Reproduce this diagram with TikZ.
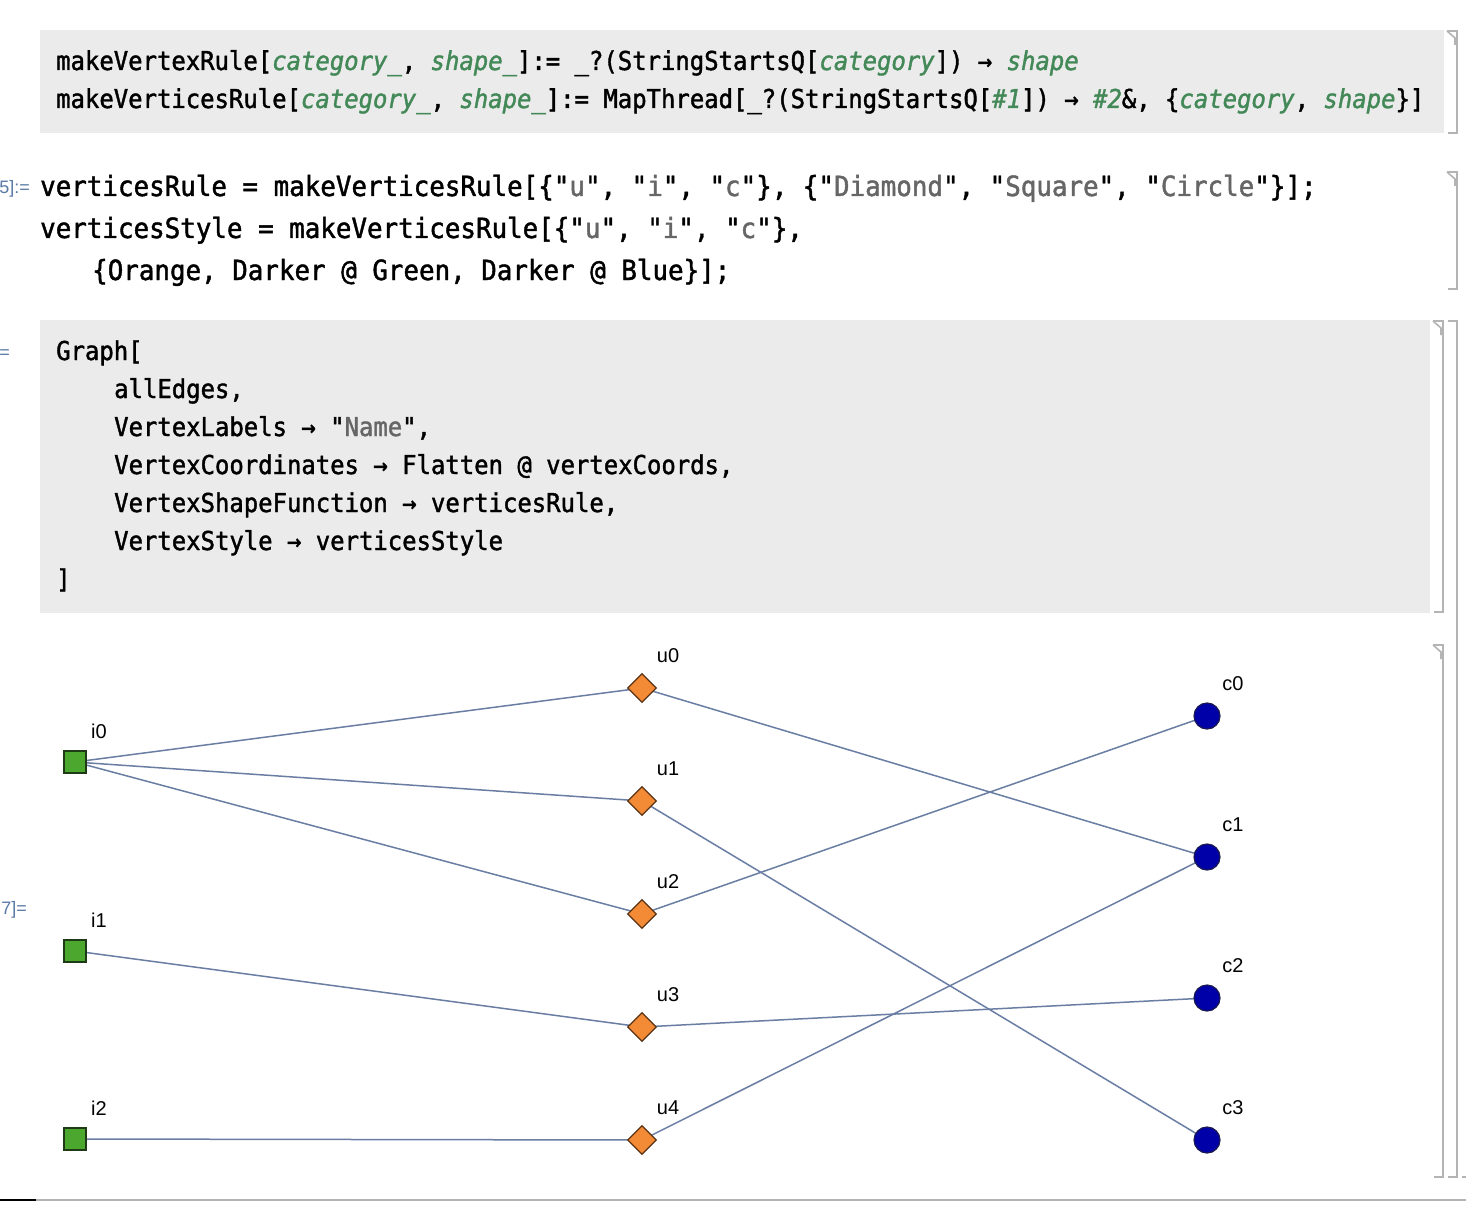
\documentclass[tikz,border=0pt]{standalone}
\usepackage{fontspec}
\setmainfont{Liberation Sans}
\newfontfamily\codefont[FakeStretch=0.92,FakeBold=1.5]{DejaVu Sans Mono}
\newfontfamily\codefontB[FakeStretch=0.93,FakeBold=1.5]{DejaVu Sans Mono}
\usetikzlibrary{shapes.geometric}
\definecolor{cellgray}{HTML}{EBEBEB}
\definecolor{brkcol}{HTML}{B4B4B4}
\definecolor{pvgreen}{HTML}{438958}
\definecolor{strgray}{HTML}{666666}
\definecolor{lblblue}{HTML}{5A7AA6}
\definecolor{edgecol}{HTML}{6A7EA4}
\definecolor{igreen}{HTML}{4CA72E}
\definecolor{iborder}{HTML}{1E3A17}
\definecolor{uorange}{HTML}{F28A36}
\definecolor{uborder}{HTML}{5C3312}
\definecolor{cblue}{HTML}{0000A8}
\definecolor{cborder}{HTML}{1A1A50}
\newcommand{\pv}[1]{{\color{pvgreen}\itshape #1}}
\newcommand{\str}[1]{"{\color{strgray}#1}"}
\pgfdeclarelayer{bglayer}
\pgfdeclarelayer{edgelayer}
\pgfsetlayers{bglayer,edgelayer,main}
\tikzset{
  codeA/.style={inner sep=0pt, anchor=base west, font=\codefont\fontsize{26}{30}\selectfont},
  codeB/.style={inner sep=0pt, anchor=base west, font=\codefontB\fontsize{27.8}{32}\selectfont},
  cellno/.style={inner sep=0pt, anchor=east, text=lblblue, font=\fontsize{18}{21}\selectfont},
  brk/.style={draw=brkcol, line width=1.6pt},
  isq/.style={rectangle, minimum size=22pt, inner sep=0pt, fill=igreen, draw=iborder, line width=1.8pt},
  udia/.style={diamond, minimum size=29pt, inner sep=0pt, fill=uorange, draw=uborder, line width=1.2pt},
  ccirc/.style={circle, minimum size=26pt, inner sep=0pt, fill=cblue, draw=cborder, line width=1.2pt},
  vlbl/.style={inner sep=0pt, font=\fontsize{20}{23}\selectfont},
  edge/.style={draw=edgecol, line width=1.5pt}
}
\begin{document}
\begin{tikzpicture}[x=1pt,y=-1pt]
\useasboundingbox (0,0) rectangle (1466,1206);
\begin{pgfonlayer}{bglayer}
\fill[white] (0,0) rectangle (1466,1206);
\end{pgfonlayer}
% cell backgrounds
\fill[cellgray] (40,30) rectangle (1444,133);
\fill[cellgray] (40,320) rectangle (1430,613);
% cell 1
\node[codeA] (l1) at (56,70) {makeVertexRule[\pv{category\_}, \pv{shape\_}]:= \_?(StringStartsQ[\pv{category}]) → \pv{shape}};
\node[codeA] (l2) at (56,108) {makeVerticesRule[\pv{category\_}, \pv{shape\_}]:= MapThread[\_?(StringStartsQ[\pv{\#1}]) → \pv{\#2}\&, \{\pv{category}, \pv{shape}\}]};
% cell 2
\node[cellno] (n5) at (30,189) {5]:=};
\node[codeB] (l3) at (40,196) {verticesRule = makeVerticesRule[\{\str{u}, \str{i}, \str{c}\}, \{\str{Diamond}, \str{Square}, \str{Circle}\}];};
\node[codeB] (l4) at (40,238) {verticesStyle = makeVerticesRule[\{\str{u}, \str{i}, \str{c}\},};
\node[codeB] (l5) at (92,280) {\{Orange, Darker @ Green, Darker @ Blue\}];};
% cell 3
\node[cellno] (n6) at (10,354) {=};
\node[codeA] (l6) at (56,360) {Graph[};
\node[codeA] (l7) at (114,398) {allEdges,};
\node[codeA] (l8) at (114,436) {VertexLabels → \str{Name},};
\node[codeA] (l9) at (114,474) {VertexCoordinates → Flatten @ vertexCoords,};
\node[codeA] (l10) at (114,512) {VertexShapeFunction → verticesRule,};
\node[codeA] (l11) at (114,550) {VertexStyle → verticesStyle};
\node[codeA] (l12) at (56,588) {]};
\node[cellno] (n7) at (27,910) {7]=};
% brackets
\draw[brk] (1447,31) -- (1457,31) -- (1457,133) -- (1448,133);
\draw[brk] (1447,31) -- (1455,38) -- (1455,45);
\draw[brk] (1447,172) -- (1457,172) -- (1457,289) -- (1448,289);
\draw[brk] (1447,172) -- (1455,179) -- (1455,186);
\draw[brk] (1433,321) -- (1443,321) -- (1443,612) -- (1434,612);
\draw[brk] (1433,321) -- (1441,328) -- (1441,335);
\draw[brk] (1433,645) -- (1443,645) -- (1443,1177) -- (1434,1177);
\draw[brk] (1433,645) -- (1441,652) -- (1441,659);
\draw[brk] (1448,321) -- (1457,321) -- (1457,1177) -- (1448,1177);
\draw[brk] (1462,1177) -- (1466,1177);
% bottom rule
\draw[brkcol, line width=2pt] (36,1200) -- (1466,1200);
\draw[black, line width=2pt] (0,1200) -- (36,1200);
% vertices
\node[isq] (i0) at (75,762) {};
\node[isq] (i1) at (75,951) {};
\node[isq] (i2) at (75,1139) {};
\node[udia] (u0) at (642,688) {};
\node[udia] (u1) at (642,801) {};
\node[udia] (u2) at (642,914) {};
\node[udia] (u3) at (642,1027) {};
\node[udia] (u4) at (642,1140) {};
\node[ccirc] (c0) at (1207,716) {};
\node[ccirc] (c1) at (1207,857) {};
\node[ccirc] (c2) at (1207,998) {};
\node[ccirc] (c3) at (1207,1140) {};
% labels
\node[vlbl] (i0l) at (99,731) {i0};
\node[vlbl] (i1l) at (99,920) {i1};
\node[vlbl] (i2l) at (99,1108) {i2};
\node[vlbl] (u0l) at (668,656) {u0};
\node[vlbl] (u1l) at (668,769) {u1};
\node[vlbl] (u2l) at (668,882) {u2};
\node[vlbl] (u3l) at (668,995) {u3};
\node[vlbl] (u4l) at (668,1108) {u4};
\node[vlbl] (c0l) at (1233,684) {c0};
\node[vlbl] (c1l) at (1233,825) {c1};
\node[vlbl] (c2l) at (1233,966) {c2};
\node[vlbl] (c3l) at (1233,1108) {c3};
% edges
\begin{pgfonlayer}{edgelayer}
\draw[edge] (i0.center) -- (u0.center);
\draw[edge] (i0.center) -- (u1.center);
\draw[edge] (i0.center) -- (u2.center);
\draw[edge] (i1.center) -- (u3.center);
\draw[edge] (i2.center) -- (u4.center);
\draw[edge] (u0.center) -- (c1.center);
\draw[edge] (u1.center) -- (c3.center);
\draw[edge] (u2.center) -- (c0.center);
\draw[edge] (u3.center) -- (c2.center);
\draw[edge] (u4.center) -- (c1.center);
\end{pgfonlayer}
\end{tikzpicture}
\end{document}
